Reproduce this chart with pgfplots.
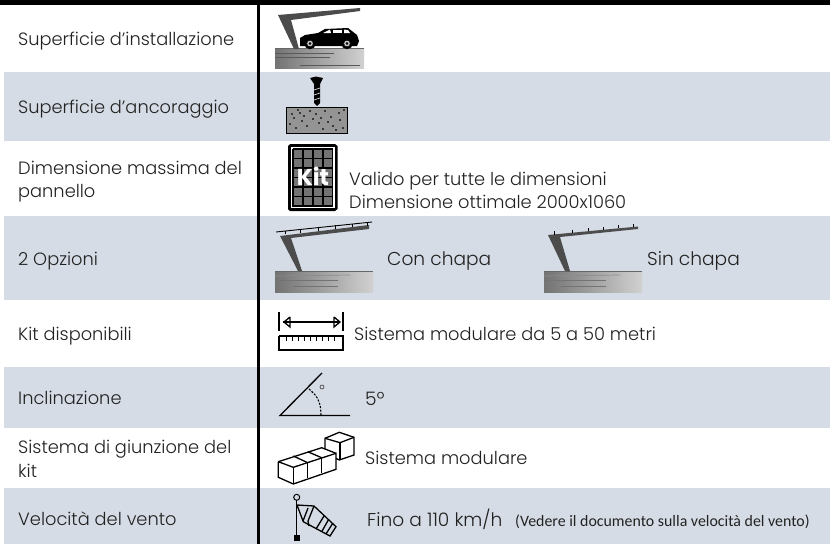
\documentclass[border=0pt]{standalone}
\usepackage{pgfplots}
\pgfplotsset{compat=1.18}
\usepackage{fontspec}
\setmainfont{Poppins}[UprightFont=* Light,BoldFont=* Bold]
\newfontfamily\calib{Carlito}
\definecolor{band}{HTML}{D6DCE5}
\definecolor{txt}{HTML}{222222}
\newcommand\poly[2]{\addplot[fill=#1,draw=none] coordinates {#2};}
\newcommand\pl[2][black]{\addplot[#1,line width=1.3pt] coordinates {#2};}
\newcommand\band[2]{\addplot[fill=band,draw=none] coordinates {(4,#1)(830,#1)(830,#2)(4,#2)};}
\newcommand\ground[4]{\addplot[draw=none,left color=black!55,right color=black!18] coordinates {(#1,#3)(#2,#3)(#2,#4)(#1,#4)};
 \addplot[black!60,line width=1pt] coordinates {(#1,#3)(#2,#3)};}
\newcommand\lab[3]{\node[anchor=base west,inner sep=0pt,text=txt,font=\fontsize{17.8}{20}\selectfont] at (axis cs:#1,#2) {#3};}
\newcommand\labb[3]{\node[anchor=base west,inner sep=0pt,text=txt,font=\fontsize{18.6}{20}\selectfont] at (axis cs:#1,#2) {#3};}
\begin{document}
\begin{tikzpicture}
\begin{axis}[hide axis,scale only axis,width=830pt,height=544pt,xmin=0,xmax=830,ymin=0,ymax=544,y dir=reverse]
\addplot[fill=white,draw=none] coordinates {(0,0)(830,0)(830,544)(0,544)};
\band{72}{141}\band{216}{300}\band{367}{428}\band{488}{544}
\poly{black}{(0,0)(830,0)(830,4.5)(0,4.5)}
\addplot[black,line width=2.5pt] coordinates {(258.5,0)(258.5,544)};
% carport and car
\ground{275}{364}{48}{68}
\addplot[black!65,line width=.7pt] coordinates {(275,53)(334,53)};
\addplot[black!65,line width=.7pt] coordinates {(275,57)(330,57)};
\addplot[black!65,line width=.7pt] coordinates {(300,65)(360,65)};
\poly{black!70}{(278,15)(360,8)(360,11)(291,20)(299,49)(294,49)}
\poly{black}{(300,38)(305,35)(318,33)(325,29)(348,28)(357,35)(359,41)(357,46)(300,46)}
\poly{white}{(323,33)(330,29.5)(331,33)}
\poly{white}{(333,29.5)(342,29.5)(342,33)(333,33)}
\poly{white}{(344,29.5)(348,30)(350,33)(344,33)}
\addplot[only marks,mark=*,mark size=5.5pt,mark options={fill=black,draw=black}] coordinates {(310,43.5)(347,43.5)};
\addplot[only marks,mark=*,mark size=3.2pt,mark options={fill=black!20,draw=none}] coordinates {(310,43.5)(347,43.5)};
\addplot[only marks,mark=*,mark size=1.2pt,mark options={fill=black,draw=none}] coordinates {(310,43.5)(347,43.5)};
% anchor
\poly{black!42}{(286,107)(347,107)(347,133)(286,133)}
\addplot[black,line width=1pt] coordinates {(286,107)(347,107)(347,133)(286,133)(286,107)};
\addplot[only marks,mark=*,mark size=.7pt,mark options={fill=black,draw=black}] coordinates {(292,114)(298,110)(304,116)(310,111)(316,114)(325,111)(331,117)(339,113)(344,110)(290,124)(296,128)(302,121)(307,126)(313,119)(319,123)(323,129)(328,122)(333,126)(340,120)(343,128)(300,113)(321,118)(336,130)(294,118)};
\poly{black}{(310,78)(316,76.5)(323,78)(320,84)(320,103)(317,106)(314,103)(314,84)}
\addplot[white,line width=.6pt] coordinates {(314,90)(320,88)};
\addplot[white,line width=.6pt] coordinates {(314,95)(320,93)};
\addplot[white,line width=.6pt] coordinates {(314,100)(320,98)};
% kit
\poly{black}{(290,144)(335,144)(337.5,146)(337.5,209)(335,211)(290,211)(288,209)(288,146)}
\poly{white}{(291,147)(334.5,147)(334.5,208)(291,208)}
\poly{black!55}{(293,149)(332.5,149)(332.5,206)(293,206)}
\addplot[black,line width=1.4pt] coordinates {(293,149)(332.5,149)(332.5,206)(293,206)(293,149)};
\addplot[black,line width=1.4pt] coordinates {(303,149)(303,206)};
\addplot[black,line width=1.4pt] coordinates {(313,149)(313,206)};
\addplot[black,line width=1.4pt] coordinates {(323,149)(323,206)};
\addplot[black,line width=1.4pt] coordinates {(293,158.5)(332.5,158.5)};
\addplot[black,line width=1.4pt] coordinates {(293,168)(332.5,168)};
\addplot[black,line width=1.4pt] coordinates {(293,177.5)(332.5,177.5)};
\addplot[black,line width=1.4pt] coordinates {(293,187)(332.5,187)};
\addplot[black,line width=1.4pt] coordinates {(293,196.5)(332.5,196.5)};
\node[text=white,font=\bfseries\fontsize{23}{24}\selectfont,inner sep=0pt] at (axis cs:313,176) {Kit};
% con chapa
\ground{275}{373}{271}{292}
\addplot[black!45,line width=.7pt] coordinates {(275,276)(350,275)};
\addplot[black!55,line width=.7pt] coordinates {(275,280)(338,280)};
\addplot[black!55,line width=.7pt] coordinates {(293,286)(338,286)};
\poly{black!70}{(280,236)(369,225)(369,229)(291,238)(302,271)(298,271)}
\addplot[black,line width=.9pt] coordinates {(276,232)(372,222)};
\addplot[black,line width=.8pt] coordinates {(285,231)(285,234)};
\addplot[black,line width=.8pt] coordinates {(300,229)(300,233)};
\addplot[black,line width=.8pt] coordinates {(318,227)(318,231)};
\addplot[black,line width=.8pt] coordinates {(335,225)(335,229)};
\addplot[black,line width=.8pt] coordinates {(352,224)(352,227)};
\addplot[black,line width=.8pt] coordinates {(367,222)(367,226)};
% sin chapa
\ground{544}{642}{271}{292}
\addplot[black!45,line width=.7pt] coordinates {(544,276)(620,275)};
\addplot[black!55,line width=.7pt] coordinates {(544,280)(606,280)};
\addplot[black!55,line width=.7pt] coordinates {(561,286)(606,286)};
\poly{black!70}{(548,235)(638,226.5)(638,229)(560,237)(570,271)(565,271)}
\addplot[black,line width=1pt] coordinates {(554,231)(554,234.5)};
\addplot[black,line width=1pt] coordinates {(572,229.5)(572,233)};
\addplot[black,line width=1pt] coordinates {(588,228)(588,231)};
\addplot[black,line width=1pt] coordinates {(603,226.5)(603,230)};
\addplot[black,line width=1pt] coordinates {(618,225)(618,228)};
\addplot[black,line width=1pt] coordinates {(633,223.5)(633,227)};
% scale
\pl{(279,312)(279,331)}
\pl{(343,312)(343,331)}
\pl{(283,322)(339,322)}
\pl{(290,317)(284,322)(290,327)(290,317)}
\pl{(334,317)(340,322)(334,327)(334,317)}
\addplot[black,line width=1.5pt] coordinates {(279,336)(343,336)(343,350)(279,350)(279,336)};
\foreach \xv in {286,292,298,304,310,316,322,328,334} {\edef\tmp{\noexpand\addplot[black,line width=1pt] coordinates {(\xv,336)(\xv,340.5)};}\tmp}
% angle
\addplot[black,line width=1.3pt] coordinates {(350,415.5)(280,415.5)(322,373)};
\addplot[black,line width=1.1pt,dash pattern=on 2pt off 1.5pt,smooth] coordinates {(309,389)(316,396)(320,405)(321,415)};
\addplot[only marks,mark=o,mark size=2pt,mark options={draw=black!80,line width=.6pt}] coordinates {(322,387)};
% cubes
\pl{(278.3,461.7)(293.3,467.3)(336,453.3)(336,469.3)(293.3,484)(278.3,477.3)(278.3,461.7)}
\pl{(278.3,461.7)(321.7,447.7)(336,453.3)}
\pl{(293.3,467.3)(293.3,484)}
\pl{(307.7,462.7)(307.7,478.3)}
\pl{(321.7,457.7)(321.7,473.3)}
\pl{(293.3,456)(307.7,462.7)}
\pl{(307.7,451.7)(321.7,457.7)}
\pl{(325,449)(325,438.3)(339.3,432.3)(354,437.3)(354,455)(339.3,460)(336,458.5)}
\pl{(325,438.3)(340,442.7)(354,437.3)}
\pl{(340,442.7)(340,460)}
% windsock
\addplot[only marks,mark=o,mark size=3pt,mark options={draw=black,fill=none,line width=1pt}] coordinates {(296.7,497.3)};
\pl{(296.7,500)(296.7,535)}
\poly{black}{(293.5,535)(300,535)(300,540.5)(293.5,540.5)}
\pl{(297,505)(314,506)(336,526.7)(330,536)(303.3,521.7)(297,505)}
\pl{(308,508)(303,521)}
\pl{(314,506)(308,521)(309,526)}
\pl{(324,516)(316,529)}
\pl{(328.3,520)(321.7,531.7)}
\pl{(332.7,523.3)(326,534)}
% text left
\lab{18}{45}{Superficie d’installazione}
\lab{18}{113}{Superficie d’ancoraggio}
\lab{18}{174}{Dimensione massima del}
\lab{18}{197}{pannello}
\lab{18}{265}{2 Opzioni}
\lab{18}{340}{Kit disponibili}
\lab{18}{404}{Inclinazione}
\lab{18}{453}{Sistema di giunzione del}
\lab{18}{477}{kit}
\lab{18}{525}{Velocità del vento}
% text right
\lab{349}{185}{Valido per tutte le dimensioni}
\lab{349}{208}{Dimensione ottimale 2000x1060}
\labb{387}{265}{Con chapa}
\labb{647}{265}{Sin chapa}
\lab{354}{340}{Sistema modulare da 5 a 50 metri}
\labb{365}{405}{5º}
\lab{365}{464}{Sistema modulare}
\labb{367}{526}{Fino a 110 km/h}
\node[anchor=base west,inner sep=0pt,text=txt,font=\calib\fontsize{15.9}{18}\selectfont] at (axis cs:515,526) {(Vedere il documento sulla velocità del vento)};
\end{axis}
\end{tikzpicture}
\end{document}
